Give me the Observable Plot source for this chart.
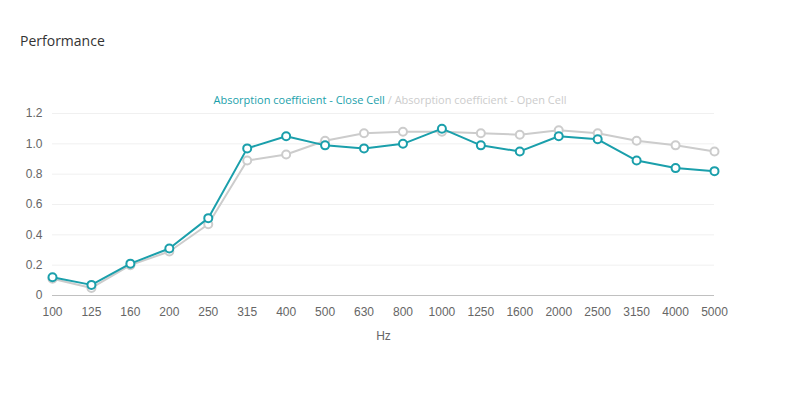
<!DOCTYPE html>
<html>
<head>
<meta charset="utf-8">
<script src="https://cdn.jsdelivr.net/npm/d3@7"></script>
<script src="https://cdn.jsdelivr.net/npm/@observablehq/plot@0.6"></script>
<style>
  html, body { margin: 0; padding: 0; background: #fff; }
  #wrap { position: relative; width: 795px; height: 394px; overflow: hidden; }
  #title { position: absolute; left: 20px; top: 31px; font-family: "Open Sans", sans-serif; font-size: 14px; color: #333; }
  #legend { position: absolute; left: 0; width: 780px; top: 92px; text-align: center; font-family: "Open Sans", sans-serif; font-size: 11px; }
  #chart { position: absolute; left: 0; top: 0; }
  #chart svg text { font-family: "Liberation Sans", Arial, sans-serif; }
</style>
</head>
<body>
<div id="wrap">
  <div id="title">Performance</div>
  <div id="legend"><span style="color:#1a9fab">Absorption coefficient - Close Cell</span><span style="color:#cccccc"> / Absorption coefficient - Open Cell</span></div>
  <div id="chart"></div>
</div>
<script>
const frequencies = ["100","125","160","200","250","315","400","500","630","800","1000","1250","1600","2000","2500","3150","4000","5000"];
const closeCell = [0.12,0.07,0.21,0.31,0.51,0.97,1.05,0.99,0.97,1.00,1.10,0.99,0.95,1.05,1.03,0.89,0.84,0.82];
const openCell  = [0.11,0.05,0.20,0.29,0.47,0.89,0.93,1.02,1.07,1.08,1.08,1.07,1.06,1.09,1.07,1.02,0.99,0.95];
const yTicks = [0,0.2,0.4,0.6,0.8,1.0,1.2];

const openData = frequencies.map((f,i)=>({f, v: openCell[i]}));
const closeData = frequencies.map((f,i)=>({f, v: closeCell[i]}));

const teal = "#1a9fab";
const grey = "#cccccc";
const font = "Liberation Sans, Arial, sans-serif";

const chart = Plot.plot({
  width: 795,
  height: 394,
  marginTop: 113,
  marginLeft: 52,
  marginRight: 81,
  marginBottom: 99,
  style: { fontFamily: font, fontSize: "12px", background: "transparent", color: "#666" },
  x: { type: "point", domain: frequencies, padding: 0, round: false },
  y: { domain: [0, 1.2] },
  marks: [
    Plot.gridY(yTicks, { stroke: "#f0f0f0", strokeOpacity: 1 }),
    Plot.ruleY([0], { stroke: "#c0c0c0" }),
    Plot.axisY(yTicks, { tickSize: 0, tickPadding: 10, tickFormat: d => d === 0 ? "0" : d.toFixed(1), label: null, fill: "#666", fontSize: 12, fontFamily: font }),
    Plot.axisX({ tickSize: 0, tickPadding: 12, label: "Hz", labelAnchor: "center", labelArrow: "none", labelOffset: 44, fill: "#666", fontSize: 12, fontFamily: font }),
    Plot.line(openData, { x: "f", y: "v", stroke: grey, strokeWidth: 2 }),
    Plot.dot(openData, { x: "f", y: "v", r: 4, fill: "white", stroke: grey, strokeWidth: 2 }),
    Plot.line(closeData, { x: "f", y: "v", stroke: teal, strokeWidth: 2 }),
    Plot.dot(closeData, { x: "f", y: "v", r: 4, fill: "white", stroke: teal, strokeWidth: 2 })
  ]
});
document.getElementById("chart").appendChild(chart);
</script>
</body>
</html>
